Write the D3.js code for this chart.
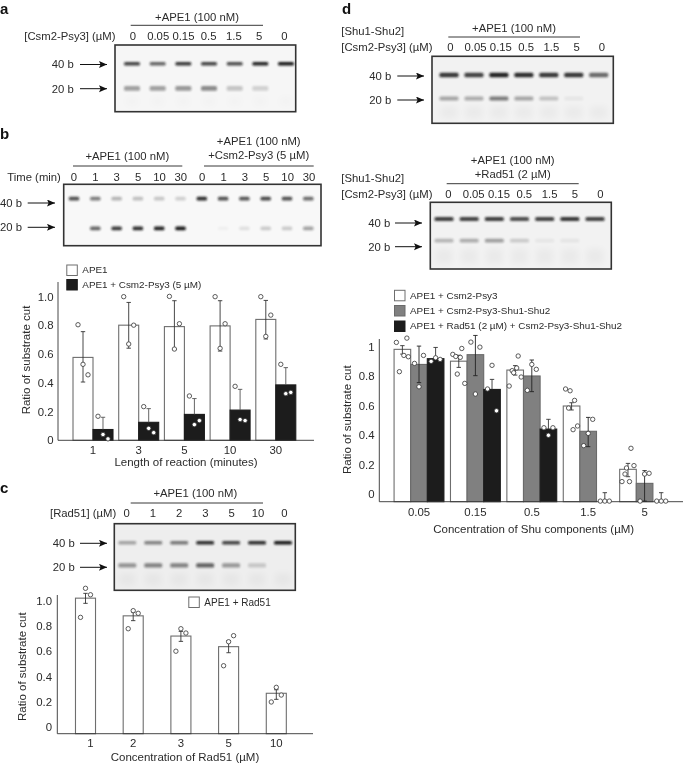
<!DOCTYPE html>
<html><head><meta charset="utf-8">
<script src="https://cdn.jsdelivr.net/npm/d3@7"></script>
<style>html,body{margin:0;background:#fff}svg{display:block;filter:blur(.35px)}text{font-family:"Liberation Sans",Arial,sans-serif;fill:#2b2b2b}</style>
</head><body><svg id="c" width="688" height="763"></svg>
<script>
// ---- gel lane labels and band intensities (0-1)
const aLanes=["0","0.05","0.15","0.5","1.5","5","0"];
const a40=[.8,.65,.85,.8,.75,.95,1], a20=[.38,.38,.42,.48,.22,.16,0];
const bLanes=["0","1","3","5","10","30","0","1","3","5","10","30"];
const b40=[.75,.55,.3,.25,.22,.18,.9,.75,.72,.78,.75,.62], b20=[0,.65,.85,.9,.95,1,0,.03,.1,.2,.2,.38];
const cLanes=["0","1","2","3","5","10","0"];
const c40=[.35,.5,.55,.9,.8,.9,1], c20=[.42,.5,.5,.65,.4,.18,0];
const d1Lanes=["0","0.05","0.15","0.5","1.5","5","0"];
const d140=[.85,.8,.95,.9,.85,.85,.62], d120=[.35,.32,.55,.35,.22,.05,0];
const d240=[.82,.8,.82,.75,.8,.85,.8], d220=[.28,.32,.38,.18,.05,.06,0];
// ---- panel b
const bGroups=["1","3","5","10","30"];
const bWhite=[.576,.80,.79,.795,.84], bBlack=[.075,.125,.18,.21,.385];
const bWhiteLow=[.405,.64,.63,.62,.704], bWhiteHigh=[.755,.958,.97,.97,.972];
const bBlackLow=[null,null,null,null,null], bBlackHigh=[.16,.22,.29,.354,.505];
const bWhitePts=[[.803,.528,.455],[.998,.669,.80],[1,.634,.81],[.998,.639,.81],[.998,.722,.87]];
const bBlackPts=[[.167,.04,.01],[.234,.083,.053],[.308,.109,.137],[.375,.144,.137],[.528,.324,.333]];
// ---- panel c
const cGroups=["1","2","3","5","10"];
const cVals=[1.02,.88,.72,.636,.267];
const cLow=[.979,.842,.678,.588,.219], cHigh=[1.058,.91,.757,.683,.295];
const cPts=[[.868,1.098,1.047],[.778,.921,.9],[.6,.778,.744],[.485,.675,.723],[.198,.314,.253]];
// ---- panel d (replicates listed left to right; null = unused slot)
const dGroups=["0.05","0.15","0.5","1.5","5"];
const dWhite=[.98,.90,.84,.597,.169], dGray=[.878,.944,.80,.426,.074], dBlack=[.917,.709,.441,0,0];
const dWhiteLow=[.948,.858,.806,.57,.119], dWhiteHigh=[1.005,.94,.87,.619,.209];
const dGrayLow=[.755,.802,.694,.322,0], dGrayHigh=[1.002,1.074,.908,.52,.16];
const dBlackLow=[null,null,null,null,null], dBlackHigh=[.993,.777,.507,.011,.011];
const dWhitePts=[
 [1.027,null,.829,null,null,.939,null,1.056,.93],
 [.946,null,.932,.813,null,.926,.986,null,.75],
 [.732,null,.836,.822,null,.854,.935,null,.793],
 [.712,null,.583,.70,null,.437,.635,null,.462],
 [.086,null,.137,.178,null,.086,.311,null,.194]];
const dGrayPts=[
 [null,.885,null,null,.727,null,null,.939,null],
 [null,1.029,null,null,.678,null,null,.995,null],
 [null,.703,null,null,.878,null,null,.845,null],
 [null,.329,null,null,.412,null,null,.507,null],
 [null,0,null,null,.137,null,null,.142,null]];
const dBlackPts=[
 [null,.899,null,null,.923,null,null,.912,null],
 [null,.712,null,null,.872,null,null,.565,null],
 [null,.45,null,null,.399,null,null,.45,null],
 [null,0,null,null,0,null,null,0,null],
 [null,0,null,null,0,null,null,0,null]];
const yTicks=[0,.2,.4,.6,.8,1];

const EDGE="#6e6e6e", WHITE="#fff", GRAY="#808080", BLACK="#1c1c1c", GELFS=11.3;
const svg=d3.select("#c");
const defs=svg.append("defs");
[["b1",.85],["haze",3.5]].forEach(([id,s])=>defs.append("filter").attr("id",id)
  .attr("x","-40%").attr("y","-150%").attr("width","180%").attr("height","400%")
  .append("feGaussianBlur").attr("stdDeviation",s));
defs.append("marker").attr("id","arrow").attr("markerUnits","userSpaceOnUse")
  .attr("markerWidth",9).attr("markerHeight",8).attr("refX",8).attr("refY",3.5).attr("orient","auto")
  .append("path").attr("d","M0,0L8,3.5L0,7L1.6,3.5Z").attr("fill","#111");

function text(s,x,y,size,anchor){
  return svg.append("text").attr("x",x).attr("y",y).attr("dy",".35em")
    .attr("font-size",size).attr("text-anchor",anchor||"start").text(s);
}
function letter(s,x,y){svg.append("text").attr("x",x).attr("y",y).attr("font-size",15)
  .attr("font-weight","bold").style("fill","#111").text(s);}
function rule(x0,x1,y){svg.append("line").attr("x1",x0).attr("x2",x1).attr("y1",y).attr("y2",y)
  .attr("stroke","#222").attr("stroke-width",.9);}

function gel(o){
  const g=svg.append("g");
  g.append("rect").attr("x",o.box[0]).attr("y",o.box[1]).attr("width",o.box[2]-o.box[0]).attr("height",o.box[3]-o.box[1])
    .attr("fill",o.bg).attr("stroke","none");
  const idx=d3.range(o.lanes.length);
  const xb=d3.scalePoint().domain(idx).range(o.bandX);
  const xl=d3.scalePoint().domain(idx).range(o.labelX);
  if(o.haze){
    g.selectAll(".h").data(idx).join("rect").attr("x",i=>xb(i)-o.w/2+1).attr("width",o.w-2)
      .attr("y",o.rowY[1]+8).attr("height",o.box[3]-o.rowY[1]-13)
      .attr("fill","#000").attr("opacity",o.haze).attr("filter","url(#haze)");
  }
  [[o.top,o.rowY[0],o.h40],[o.bot,o.rowY[1],o.h20]].forEach(([vals,ry,h])=>{
    g.selectAll(null).data(vals).join("rect")
      .attr("x",(d,i)=>xb(i)-o.w/2).attr("width",o.w)
      .attr("y",ry-h/2).attr("height",h).attr("rx",1.5)
      .attr("fill","#141414").attr("opacity",d=>d).attr("filter","url(#b1)");
  });
  g.append("rect").attr("x",o.box[0]).attr("y",o.box[1]).attr("width",o.box[2]-o.box[0]).attr("height",o.box[3]-o.box[1])
    .attr("fill","none").attr("stroke","#333").attr("stroke-width",1.6);
  svg.selectAll(null).data(o.lanes).join("text").attr("class","lane")
    .attr("x",(d,i)=>xl(i)).attr("y",o.labelY).attr("dy",".35em")
    .attr("font-size",GELFS).attr("text-anchor","middle").text(d=>d);
  o.arrows.forEach(([label,y,tx0,ax0,ax1])=>{
    text(label,tx0,y,GELFS);
    svg.append("line").attr("x1",ax0).attr("x2",ax1).attr("y1",y).attr("y2",y)
      .attr("stroke","#111").attr("stroke-width",1).attr("marker-end","url(#arrow)");
  });
}

function chart(o){
  const g=svg.append("g");
  const y=d3.scaleLinear().domain(o.yDomain).range(o.yRange);
  const x=d3.scaleBand().domain(o.groups).range(o.xRange).paddingInner(o.pi).paddingOuter(o.pi/2);
  const xs=d3.scaleBand().domain(d3.range(o.series.length)).range([0,x.bandwidth()]);
  const base=o.yRange[0];
  const Y=v=>v===0?base-.6:y(v);
  const jitter=d3.scalePoint().domain(d3.range(o.slots)).range(o.jitter);
  o.series.forEach((s,si)=>{
    const gs=g.append("g");
    gs.selectAll("rect").data(s.vals).join("rect")
      .attr("x",(d,i)=>x(o.groups[i])+xs(si)).attr("width",xs.bandwidth())
      .attr("y",d=>d===0?base:y(d)).attr("height",d=>d===0?0:base-y(d))
      .attr("fill",s.fill).attr("stroke",s.stroke).attr("stroke-width",1.1);
  });
  // axes
  g.append("line").attr("x1",o.yx).attr("x2",o.xEnd).attr("y1",base).attr("y2",base).attr("stroke","#333").attr("stroke-width",.9);
  g.append("line").attr("x1",o.yx).attr("x2",o.yx).attr("y1",o.yRange[1]).attr("y2",base).attr("stroke","#333").attr("stroke-width",.9);
  const ax=g.append("g").attr("transform",`translate(0,${base})`).call(d3.axisBottom(x).tickSize(0).tickPadding(o.xPad));
  ax.select(".domain").remove();
  ax.selectAll("text").attr("font-size",o.fs).attr("dx",(d,i)=>o.firstDx&&i===0?o.firstDx:0);
  const ay=g.append("g").attr("transform",`translate(${o.yLabelX},0)`).call(d3.axisLeft(y).tickValues(yTicks).tickSize(0).tickPadding(0).tickFormat(o.fmt));
  ay.select(".domain").remove();
  ay.selectAll("text").attr("font-size",o.fs);
  // error bars, then replicates
  o.series.forEach((s,si)=>{
    s.vals.forEach((v,i)=>{
      const cx=x(o.groups[i])+xs(si)+xs.bandwidth()/2;
      const hi=Y(s.high[i]), lo=s.low[i]==null?Y(v):Y(s.low[i]);
      const e=g.append("g").attr("stroke",s.err||"#333").attr("stroke-width",.9);
      e.append("line").attr("x1",cx).attr("x2",cx).attr("y1",hi).attr("y2",lo);
      e.append("line").attr("x1",cx-2.2).attr("x2",cx+2.2).attr("y1",hi).attr("y2",hi);
      if(s.low[i]!=null) e.append("line").attr("x1",cx-2.2).attr("x2",cx+2.2).attr("y1",lo).attr("y2",lo);
    });
    s.pts.forEach((arr,i)=>{
      const cx=x(o.groups[i])+xs(si)+xs.bandwidth()/2;
      g.append("g").selectAll("circle").data(arr.map((v,k)=>({v,k})).filter(d=>d.v!=null)).join("circle")
        .attr("cx",d=>cx+jitter(d.k)).attr("cy",d=>Y(d.v)).attr("r",2.2)
        .attr("fill","#fff").attr("stroke",s.ptStroke||"#333").attr("stroke-width",.8);
    });
  });
  // titles
  text(o.xTitle,o.xTitlePos[0],o.xTitlePos[1],o.tfs,"middle");
  svg.append("text").attr("transform",`translate(${o.yTitlePos[0]},${o.yTitlePos[1]}) rotate(-90)`)
    .attr("dy",".35em").attr("text-anchor","middle").attr("font-size",o.tfs).text("Ratio of substrate cut");
  // legend
  o.legend.forEach(([label,fill,stroke,x0,y0])=>{
    svg.append("rect").attr("x",x0).attr("y",y0-5).attr("width",10.5).attr("height",10.5)
      .attr("fill",fill).attr("stroke",stroke).attr("stroke-width",1);
    text(label,x0+15.5,y0,o.lfs);
  });
}

// ------- Panel a
letter("a",0,14);
text("+APE1 (100 nM)",197,16.7,GELFS,"middle"); rule(130.7,263,25.3);
text("[Csm2-Psy3] (µM)",24.3,36,GELFS);
gel({box:[115,45,295.7,111.7],bg:"#f6f6f6",lanes:aLanes,top:a40,bot:a20,bandX:[132,286],labelX:[133,284.3],labelY:36,
  rowY:[63.7,88.3],w:16,h40:3.4,h20:4.8,haze:.012,arrows:[["40 b",64.5,51.7,80,107],["20 b",88.7,51.7,80,107]]});

// ------- Panel b
letter("b",0,139.3);
text("+APE1 (100 nM)",127.3,155.7,GELFS,"middle"); rule(73,182.3,166);
text("+APE1 (100 nM)",258.7,141.3,GELFS,"middle");
text("+Csm2-Psy3 (5 µM)",258.7,155.3,GELFS,"middle"); rule(204,313.7,166);
text("Time (min)",7.3,176.7,GELFS);
gel({box:[63.7,184.3,321,245.7],bg:"#f8f8f8",lanes:bLanes,top:b40,bot:b20,bandX:[74,308.3],labelX:[74,309],labelY:177,
  rowY:[198.6,228.3],w:10.5,h40:3.8,h20:3.8,haze:0,arrows:[["40 b",203,0,27.7,55],["20 b",227.3,0,27.7,55]]});
chart({groups:bGroups,yDomain:[0,1.1],yRange:[440.3,282],xRange:[70.15,298.65],pi:.125,yx:58,xEnd:314,yLabelX:53.5,xPad:5.6,fs:11.4,tfs:11.5,lfs:9.9,
  slots:3,jitter:[-5,5],
  fmt:d=>d===0?"0":d.toFixed(1),
  series:[{vals:bWhite,fill:WHITE,stroke:EDGE,low:bWhiteLow,high:bWhiteHigh,pts:bWhitePts},
          {vals:bBlack,fill:BLACK,stroke:BLACK,low:bBlackLow,high:bBlackHigh,pts:bBlackPts,err:"#555"}],
  xTitle:"Length of reaction (minutes)",xTitlePos:[186,462],yTitlePos:[25.6,360],
  legend:[["APE1",WHITE,EDGE,66.8,270],["APE1 + Csm2-Psy3 (5 µM)",BLACK,BLACK,66.8,284.5]]});

// ------- Panel c
letter("c",0,493.3);
text("+APE1 (100 nM)",195.3,493.3,GELFS,"middle"); rule(130.7,263,503);
text("[Rad51] (µM)",50,513.3,GELFS);
gel({box:[114.3,523.7,295.3,590.3],bg:"#eeeeee",lanes:cLanes,top:c40,bot:c20,bandX:[127.3,283],labelX:[126.7,284.3],labelY:513.3,
  rowY:[542.7,565.3],w:18,h40:3.6,h20:4.2,haze:.03,arrows:[["40 b",543.3,52.7,80,107],["20 b",567.3,52.7,80,107]]});
chart({groups:cGroups,yDomain:[-.053,1.045],yRange:[733.7,595],xRange:[61.65,300.15],pi:.58,yx:57.3,xEnd:313,yLabelX:52,xPad:5,fs:11.4,tfs:11.5,lfs:10,
  slots:3,jitter:[-5,5],firstDx:5,
  fmt:d=>d===0?"0":d.toFixed(1),
  series:[{vals:cVals,fill:WHITE,stroke:EDGE,low:cLow,high:cHigh,pts:cPts}],
  xTitle:"Concentration of Rad51 (µM)",xTitlePos:[185,756.7],yTitlePos:[21.7,666.7],
  legend:[["APE1 + Rad51",WHITE,EDGE,188.8,602]]});

// ------- Panel d
letter("d",342,14);
text("+APE1 (100 nM)",514,28,GELFS,"middle"); rule(448.3,580,37);
text("[Shu1-Shu2]",341.3,31,GELFS); text("[Csm2-Psy3] (µM)",341.3,47.3,GELFS);
gel({box:[432,56.3,613.3,123.3],bg:"#f2f2f2",lanes:d1Lanes,top:d140,bot:d120,bandX:[449,598.7],labelX:[450.3,602],labelY:47.3,
  rowY:[75,98.5],w:19,h40:4.4,h20:3.8,haze:.03,arrows:[["40 b",76,369.3,397.3,424],["20 b",100,369.3,397.3,424]]});
text("+APE1 (100 nM)",512.7,159.7,GELFS,"middle"); text("+Rad51 (2 µM)",512.7,174,GELFS,"middle"); rule(446.7,578.7,183.7);
text("[Shu1-Shu2]",341.3,177.7,GELFS); text("[Csm2-Psy3] (µM)",341.3,194.3,GELFS);
gel({box:[430.3,202.3,611.3,269],bg:"#f2f2f2",lanes:d1Lanes,top:d240,bot:d220,bandX:[444,595],labelX:[448.3,600.3],labelY:194.3,
  rowY:[219,240.7],w:19,h40:4.2,h20:3.8,haze:.03,arrows:[["40 b",223,368.3,395,422],["20 b",246.7,368.3,395,422]]});
chart({groups:dGroups,yDomain:[-.05,1.05],yRange:[501.7,339],xRange:[390.8,672.8],pi:.116,yx:379.3,xEnd:683,yLabelX:374.5,xPad:6,fs:11.4,tfs:11.5,lfs:9.9,
  slots:9,jitter:[-6,6],
  fmt:d=>(d===0||d===1)?String(d):d.toFixed(1),
  series:[{vals:dWhite,fill:WHITE,stroke:EDGE,low:dWhiteLow,high:dWhiteHigh,pts:dWhitePts},
          {vals:dGray,fill:GRAY,stroke:"#6a6a6a",low:dGrayLow,high:dGrayHigh,pts:dGrayPts,err:"#222"},
          {vals:dBlack,fill:BLACK,stroke:BLACK,low:dBlackLow,high:dBlackHigh,pts:dBlackPts,err:"#333"}],
  xTitle:"Concentration of Shu components (µM)",xTitlePos:[533.7,528.5],yTitlePos:[347.3,419.7],
  legend:[["APE1 + Csm2-Psy3",WHITE,EDGE,394.5,295.3],["APE1 + Csm2-Psy3-Shu1-Shu2",GRAY,"#6a6a6a",394.5,310.5],["APE1 + Rad51 (2 µM) + Csm2-Psy3-Shu1-Shu2",BLACK,BLACK,394.5,326]]});
</script></body></html>
